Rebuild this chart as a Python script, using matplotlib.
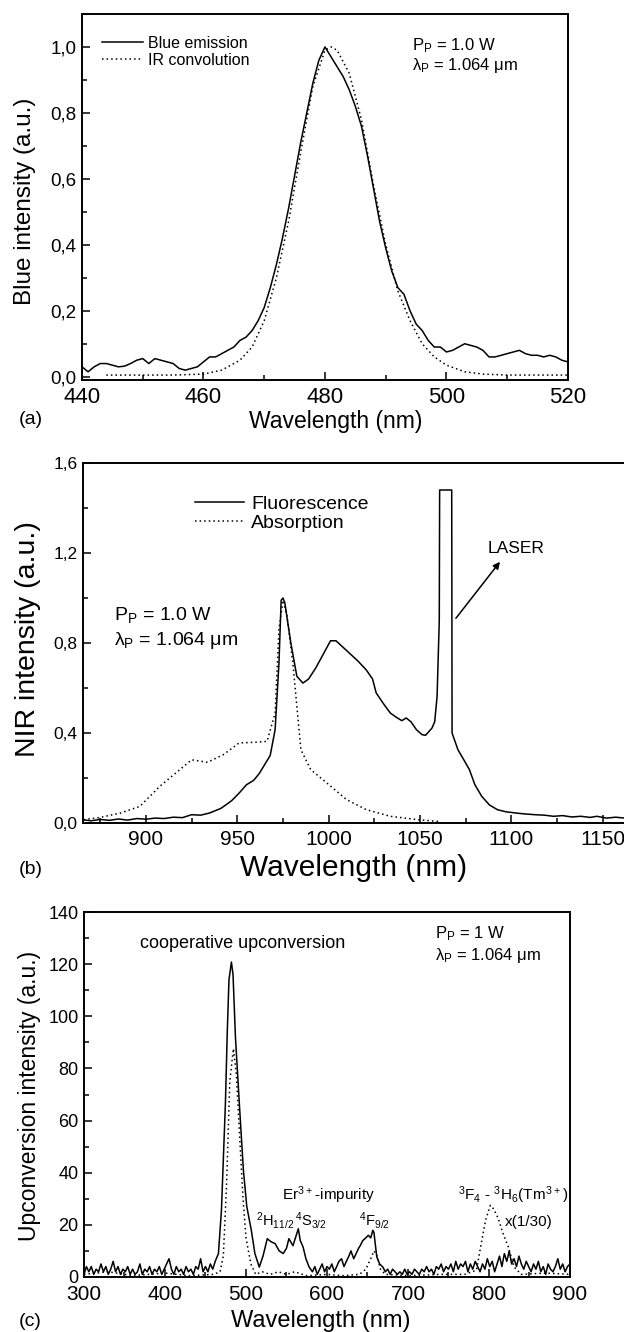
import matplotlib
matplotlib.use("Agg")
import matplotlib.pyplot as plt
from matplotlib.ticker import MultipleLocator, FuncFormatter

plt.rcParams['font.family'] = ['Liberation Sans', 'DejaVu Sans']
plt.rcParams['mathtext.default'] = 'regular'

# ---- panel (a): blue emission vs IR convolution ----
a_emis_x = list(range(440, 521))
a_emis_y = [0.03, 0.015, 0.03, 0.04, 0.04, 0.035, 0.03, 0.032, 0.04, 0.05,
            0.055, 0.04, 0.055, 0.05, 0.045, 0.04, 0.025, 0.02, 0.025, 0.03,
            0.045, 0.06, 0.06, 0.07, 0.08, 0.09, 0.11, 0.12, 0.14, 0.17,
            0.21, 0.27, 0.34, 0.42, 0.51, 0.61, 0.71, 0.8, 0.89, 0.96,
            1.0, 0.97, 0.94, 0.91, 0.87, 0.82, 0.76, 0.67, 0.57, 0.47,
            0.39, 0.32, 0.27, 0.25, 0.2, 0.16, 0.14, 0.11, 0.09, 0.09,
            0.075, 0.08, 0.09, 0.1, 0.095, 0.09, 0.08, 0.06, 0.06, 0.065,
            0.07, 0.075, 0.08, 0.07, 0.065, 0.065, 0.06, 0.065, 0.06, 0.05,
            0.045]
a_conv_x = [444, 450, 455, 460, 463, 466, 468, 470, 472, 474, 476, 478, 480,
            481, 482, 484, 486, 488, 490, 492, 494, 496, 498, 500, 503, 506,
            510, 515, 520]
a_conv_y = [0.005, 0.005, 0.005, 0.008, 0.02, 0.05, 0.09, 0.17, 0.3, 0.47,
            0.68, 0.88, 0.99, 1.0, 0.99, 0.92, 0.78, 0.58, 0.4, 0.26, 0.17,
            0.1, 0.06, 0.035, 0.015, 0.008, 0.005, 0.005, 0.005]

# ---- panel (b): NIR fluorescence and absorption ----
b_fluo_x = [865, 870, 875, 880, 885, 890, 895, 900, 905, 910, 915, 920, 925,
            930, 935, 938, 941, 944, 947, 951, 955, 959, 962, 965, 968, 970.7,
            972.8, 974, 975, 976, 979.3, 982.6, 985.9, 989, 993, 997, 1001,
            1004, 1008, 1012, 1016, 1020.6, 1024, 1026, 1030, 1033.7, 1037,
            1040, 1042.4, 1045, 1048, 1051, 1053, 1056.5, 1058, 1059.3,
            1060.5, 1060.7, 1067.3, 1067.5, 1070.7, 1074, 1077, 1080, 1083.7,
            1088, 1092.4, 1097, 1103, 1108, 1113, 1118, 1123, 1128, 1133,
            1138, 1143, 1146.7, 1152, 1157, 1162, 1170]
b_fluo_y = [0.015, 0.01, 0.016, 0.012, 0.018, 0.013, 0.02, 0.017, 0.022,
            0.02, 0.026, 0.024, 0.037, 0.035, 0.045, 0.055, 0.065, 0.082,
            0.1, 0.133, 0.17, 0.19, 0.22, 0.26, 0.3, 0.415, 0.71, 0.99, 1.0,
            0.98, 0.8, 0.652, 0.622, 0.64, 0.69, 0.75, 0.81, 0.81, 0.78,
            0.75, 0.72, 0.68, 0.64, 0.578, 0.53, 0.489, 0.47, 0.455, 0.467,
            0.45, 0.415, 0.393, 0.39, 0.422, 0.45, 0.563, 0.9, 1.48, 1.48,
            0.4, 0.326, 0.28, 0.237, 0.17, 0.119, 0.08, 0.059, 0.05, 0.044,
            0.04, 0.037, 0.035, 0.03, 0.033, 0.027, 0.03, 0.025, 0.03, 0.022,
            0.026, 0.022, 0.024]
b_abs_x = [866, 875, 885.9, 896.7, 907.6, 918.5, 925, 933.7, 942.4, 951,
           959.8, 966.3, 970.7, 972.8, 975, 977.2, 980.4, 984.8, 990.2, 999,
           1009.8, 1020.7, 1033.7, 1049, 1060]
b_abs_y = [0.015, 0.025, 0.044, 0.074, 0.163, 0.237, 0.281, 0.27, 0.304,
           0.356, 0.359, 0.363, 0.489, 0.86, 0.99, 0.919, 0.711, 0.326, 0.237,
           0.178, 0.104, 0.059, 0.03, 0.015, 0.007]

# ---- panel (c): upconversion spectrum ----
c_up_x = [300, 303, 306, 309, 312, 315, 318, 321, 324, 327, 330, 333, 336,
          339, 342, 345, 348, 351, 354, 357, 360, 363, 366, 369, 372, 375,
          378, 381, 384, 387, 390, 393, 396, 399, 402, 405, 408, 411, 414,
          417, 420, 423, 426, 429, 432, 435, 438, 441, 444, 447, 450, 453,
          456, 459, 462, 466, 469.7, 472, 474.6, 477, 479, 482, 484, 487,
          491.8, 496.8, 501, 506.6, 511, 516.4, 521, 526.3, 531, 536, 541,
          546, 550, 553, 558, 561, 564.6, 567, 570.5, 574, 578, 582, 585,
          588, 591, 594, 597, 600, 603, 606, 609, 612, 614.8, 618, 621, 624,
          627, 629.6, 633, 636, 639, 641, 644.3, 648, 651, 654, 656.6, 658,
          661.5, 665, 669, 672, 675, 678, 681, 684, 687, 690, 693, 696, 699,
          702, 705, 708, 711, 714, 717, 720, 723, 726, 729, 732, 735, 738,
          741, 744, 747, 750, 753, 756, 759, 762, 765, 768, 771, 774, 777,
          780, 783, 786, 789, 792, 795, 798, 801, 804, 807, 810, 813, 816,
          819, 822, 825, 828, 831, 834, 837, 840, 843, 846, 849, 852, 855,
          858, 861, 864, 867, 870, 873, 876, 879, 882, 885, 888, 891, 894,
          897, 900]
c_up_y = [1, 4, 2, 4, 1, 3, 2, 5, 2, 4, 1, 3, 6, 2, 4, 1, 3, 2, 4, 1, 3, 1,
          2, 5, 1, 3, 2, 4, 1, 3, 2, 4, 1, 3, 5, 7, 3, 1, 4, 2, 3, 1, 4, 2,
          3, 1, 4, 3, 7, 2, 4, 2, 5, 3, 6, 9, 25.6, 45, 66.5, 95, 114, 120.8,
          116, 92, 66.5, 41, 27, 17.9, 9, 3.8, 8, 14.7, 13.5, 12.8, 10, 9,
          11, 14.7, 12, 15, 18.5, 14, 11.5, 7, 3.8, 2, 4, 1, 3, 5, 2, 4, 3,
          5, 2, 4, 6, 7, 4, 6, 8, 10, 7, 9, 11, 12, 14, 15, 16, 15, 17.9, 17,
          7.7, 5, 3.8, 2, 3, 1, 3, 2, 1, 2, 1, 3, 1, 2, 1, 3, 2, 1, 3, 2, 4,
          2, 3, 1, 4, 3, 5, 2, 4, 3, 5, 2, 6, 3, 5, 4, 6, 2, 5, 3, 6, 4, 2,
          5, 3, 7, 4, 6, 2, 5, 8, 4, 9, 6, 10, 5, 7, 4, 8, 5, 3, 6, 4, 2, 5,
          3, 6, 2, 4, 1, 5, 3, 2, 4, 7, 3, 5, 2, 4, 5]
c_ref_x = [300, 330, 360, 400, 430, 460, 468, 472, 476, 480, 484.5, 488, 492,
           496, 500, 506, 512, 520, 530, 540, 550, 560, 575, 600, 620, 640,
           648, 654, 658, 662, 666, 672, 700, 740, 770, 784.5, 791.9, 796,
           801.7, 806, 811.5, 817, 823.9, 831, 840, 870, 900]
c_ref_y = [1, 2, 0.5, 1.5, 0.5, 1, 2, 8, 35, 75, 87.6, 78, 55, 32, 15, 5, 1,
           2, 1, 2, 1, 2, 0.5, 1, 0.5, 1, 3, 7, 10, 8, 3, 1, 0.5, 1, 1, 2.6,
           15.3, 22, 27.5, 26, 22.4, 17, 11.5, 3.8, 1, 1.5, 1]

comma = FuncFormatter(lambda v, p: f"{v:.1f}".replace('.', ','))
dots = (0, (1, 2))


def style_axes(ax, xsize, ysize, xpad=5):
    for s in ax.spines.values():
        s.set_linewidth(1.4)
    ax.tick_params(which='both', direction='in', top=False, right=False, width=1.1)
    ax.tick_params(which='major', length=5.5)
    ax.tick_params(which='minor', length=3.5)
    ax.tick_params(axis='x', labelsize=xsize, pad=xpad)
    ax.tick_params(axis='y', labelsize=ysize, pad=4)


fig = plt.figure(figsize=(6.24, 13.32), dpi=100)

# (a)
ax1 = fig.add_axes([0.1314, 0.7147, 0.7788, 0.2748])
ax1.plot(a_emis_x, a_emis_y, color='k', lw=1.1, label='Blue emission')
ax1.plot(a_conv_x, a_conv_y, color='k', lw=1.1, ls=dots, label='IR convolution')
ax1.set_xlim(440, 520)
ax1.set_ylim(-0.01, 1.1)
ax1.xaxis.set_major_locator(MultipleLocator(20))
ax1.xaxis.set_minor_locator(MultipleLocator(10))
ax1.yaxis.set_major_locator(MultipleLocator(0.2))
ax1.yaxis.set_minor_locator(MultipleLocator(0.1))
ax1.yaxis.set_major_formatter(comma)
style_axes(ax1, 16, 13.5)
ax1.set_xlabel('Wavelength (nm)', fontsize=16.5, va='center')
ax1.xaxis.set_label_coords(0.523, -0.112)
ax1.set_ylabel('Blue intensity (a.u.)', fontsize=17.5, va='center')
ax1.yaxis.set_label_coords(-0.117, 0.488)
ax1.legend(loc='upper left', bbox_to_anchor=(0.041, 0.94), frameon=False,
           fontsize=11.5, handlelength=2.6, handletextpad=0.3,
           labelspacing=0.1, borderpad=0, borderaxespad=0)
ax1.text(494.3, 1.003, r'P$_P$ = 1.0 W', fontsize=12, va='center')
ax1.text(494.3, 0.945, r'λ$_P$ = 1.064 μm', fontsize=12, va='center')
fig.text(31 / 624, 1 - 420 / 1332, '(a)', fontsize=14, ha='center', va='center')

# (b)
ax2 = fig.add_axes([0.133, 0.3821, 0.9064, 0.2703])
ax2.plot(b_fluo_x, b_fluo_y, color='k', lw=1.1, label='Fluorescence')
ax2.plot(b_abs_x, b_abs_y, color='k', lw=1.1, ls=dots, label='Absorption')
ax2.set_xlim(865.6, 1175)
ax2.set_ylim(0, 1.6)
ax2.xaxis.set_major_locator(MultipleLocator(50))
ax2.xaxis.set_minor_locator(MultipleLocator(25))
ax2.yaxis.set_major_locator(MultipleLocator(0.4))
ax2.yaxis.set_minor_locator(MultipleLocator(0.2))
ax2.yaxis.set_major_formatter(comma)
style_axes(ax2, 15, 12.5)
ax2.set_xlabel('Wavelength (nm)', fontsize=21.5, va='center')
ax2.xaxis.set_label_coords(0.479, -0.125)
ax2.set_ylabel('NIR intensity (a.u.)', fontsize=20.5, va='center')
ax2.yaxis.set_label_coords(-0.097, 0.511)
ax2.legend(loc='upper left', bbox_to_anchor=(0.198, 0.91), frameon=False,
           fontsize=14, handlelength=2.5, handletextpad=0.4,
           labelspacing=0.08, borderpad=0, borderaxespad=0)
ax2.text(882.6, 0.924, r'P$_P$ = 1.0 W', fontsize=14, va='center')
ax2.text(882.6, 0.81, r'λ$_P$ = 1.064 μm', fontsize=14, va='center')
ax2.text(1087, 1.221, 'LASER', fontsize=12.5, va='center')
ax2.annotate('', xy=(1093.7, 1.161), xytext=(1069.6, 0.91),
             arrowprops=dict(arrowstyle='-|>', color='k', lw=1.1,
                             mutation_scale=10, shrinkA=0, shrinkB=0))
fig.text(31 / 624, 1 - 870 / 1332, '(b)', fontsize=14, ha='center', va='center')

# (c)
ax3 = fig.add_axes([0.1346, 0.0413, 0.7788, 0.274])
ax3.plot(c_up_x, c_up_y, color='k', lw=1.1)
ax3.plot(c_ref_x, c_ref_y, color='k', lw=1.1, ls=dots)
ax3.set_xlim(300, 900)
ax3.set_ylim(0, 140)
ax3.xaxis.set_major_locator(MultipleLocator(100))
ax3.xaxis.set_minor_locator(MultipleLocator(50))
ax3.yaxis.set_major_locator(MultipleLocator(20))
ax3.yaxis.set_minor_locator(MultipleLocator(10))
style_axes(ax3, 15, 13, xpad=6)
ax3.set_xlabel('Wavelength (nm)', fontsize=17, va='center')
ax3.xaxis.set_label_coords(0.488, -0.12)
ax3.set_ylabel('Upconversion intensity (a.u.)', fontsize=16.5, va='center')
ax3.yaxis.set_label_coords(-0.113, 0.496)
ax3.text(368.9, 127.9, 'cooperative upconversion', fontsize=13, va='center')
ax3.text(732.8, 131.7, r'P$_P$ = 1 W', fontsize=12, va='center')
ax3.text(732.8, 123.4, r'λ$_P$ = 1.064 μm', fontsize=12, va='center')
ax3.text(545, 31.3, r'Er$^3$$^+$-impurity', fontsize=11, va='center')
ax3.text(512, 21.7, r'$^2$H$_{11/2}$', fontsize=10.5, va='center')
ax3.text(561, 21.7, r'$^4$S$_{3/2}$', fontsize=10.5, va='center')
ax3.text(639, 21.7, r'$^4$F$_{9/2}$', fontsize=10.5, va='center')
ax3.text(762, 31.3, r'$^3$F$_4$ - $^3$H$_6$(Tm$^3$$^+$)', fontsize=11, va='center')
ax3.text(820, 21.1, 'x(1/30)', fontsize=11, va='center')
fig.text(30 / 624, 1 - 1322 / 1332, '(c)', fontsize=14, ha='center', va='center')

fig.savefig('out.png', dpi=100)
